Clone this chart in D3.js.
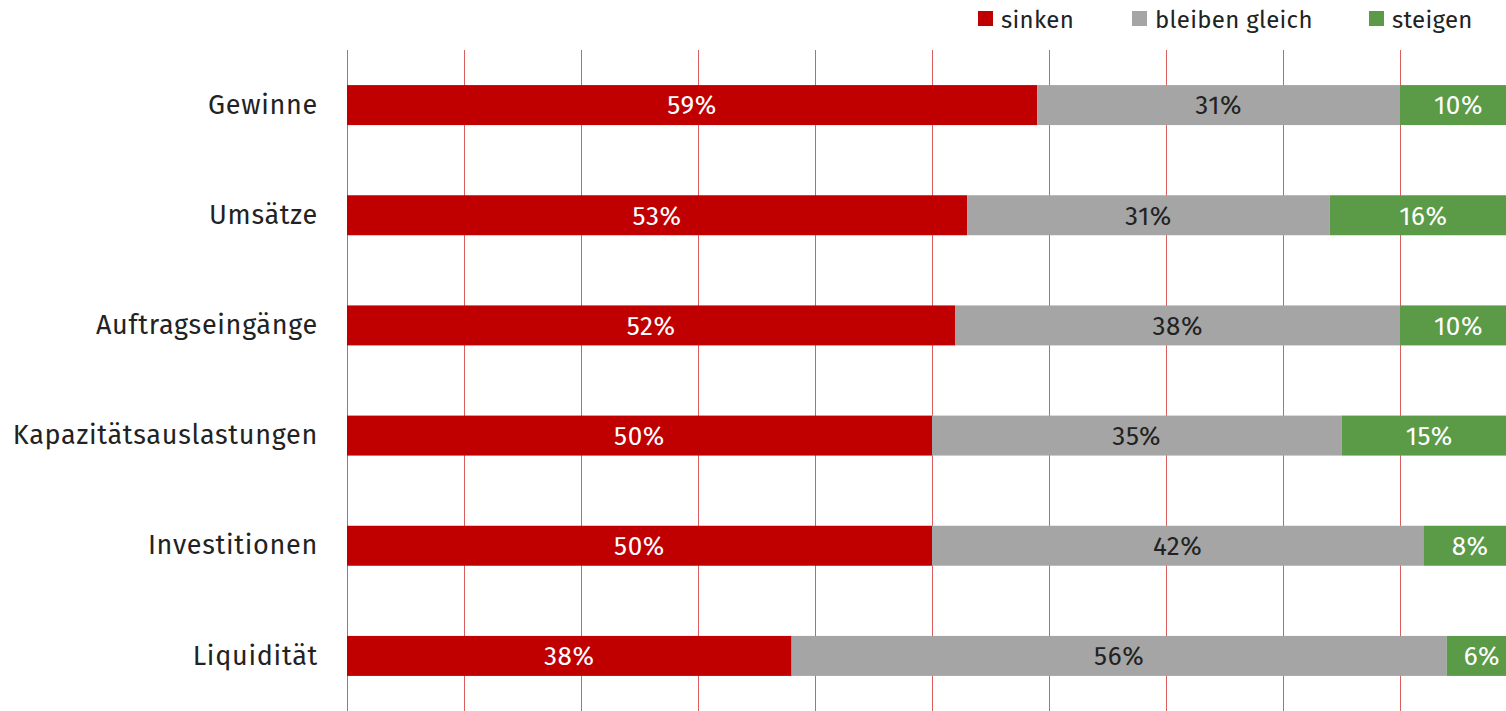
<!DOCTYPE html>
<html>
<head>
<meta charset="utf-8">
<script src="https://cdn.jsdelivr.net/npm/d3@7"></script>
<style>
  html, body { margin: 0; padding: 0; background: #fff; overflow: hidden; }
  svg { display: block; font-family: "Fira Sans", "Noto Sans", sans-serif; }
</style>
</head>
<body>
<svg id="chart" width="1506" height="711"></svg>
<script>
const categories = ["Gewinne", "Umsätze", "Auftragseingänge", "Kapazitätsauslastungen", "Investitionen", "Liquidität"];
const seriesNames = ["sinken", "bleiben gleich", "steigen"];
const sinken = [59, 53, 52, 50, 50, 38];
const gleich = [31, 31, 38, 35, 42, 56];
const steigen = [10, 16, 10, 15, 8, 6];
const gridTicks = [0, 10, 20, 30, 40, 50, 60, 70, 80, 90, 100];

const colors = ["#c00000", "#a5a5a5", "#5b9a47"];
const labelColors = ["#fff", "#222", "#fff"];

const svg = d3.select("#chart");

// plot continues past the right edge of the window (100% sits off-screen)
const x = d3.scaleLinear().domain([0, 100]).range([347, 1517]);
const y = d3.scaleBand().domain(categories).range([50, 711]).paddingInner(0.637).paddingOuter(0.3185);

const rows = categories.map((c, i) => ({ cat: c, sinken: sinken[i], gleich: gleich[i], steigen: steigen[i] }));
const stack = d3.stack().keys(["sinken", "gleich", "steigen"]);
const layers = stack(rows);

// gridlines
svg.append("g")
  .selectAll("line")
  .data(gridTicks)
  .enter()
  .append("line")
  .attr("x1", d => x(d) + 0.5)
  .attr("x2", d => x(d) + 0.5)
  .attr("y1", 50)
  .attr("y2", 711)
  .attr("stroke", "#cc2a2a")
  .attr("stroke-opacity", 0.75)
  .attr("stroke-width", 1);

// bars
const layerG = svg.append("g")
  .selectAll("g")
  .data(layers)
  .enter()
  .append("g");

layerG.selectAll("rect")
  .data((d, i) => d.map(s => ({ s, i })))
  .enter()
  .append("rect")
  .attr("x", d => x(d.s[0]))
  .attr("y", d => y(d.s.data.cat))
  .attr("width", d => x(d.s[1]) - x(d.s[0]))
  .attr("height", y.bandwidth())
  .attr("fill", d => colors[d.i]);

layerG.selectAll("text")
  .data((d, i) => d.map(s => ({ s, i })))
  .enter()
  .append("text")
  .attr("x", d => (x(d.s[0]) + x(d.s[1])) / 2)
  .attr("y", d => y(d.s.data.cat) + y.bandwidth() / 2)
  .attr("dy", "0.36em")
  .attr("text-anchor", "middle")
  .attr("font-size", 26)
  .attr("letter-spacing", "0.6px")
  .attr("fill", d => labelColors[d.i])
  .text(d => (d.s[1] - d.s[0]) + "%");

// category labels
const yAxis = svg.append("g")
  .attr("transform", "translate(347,0)")
  .call(d3.axisLeft(y).tickSize(0).tickPadding(29));
yAxis.select(".domain").remove();
yAxis.selectAll("text")
  .attr("font-size", 27)
  .attr("letter-spacing", "0.7px")
  .attr("font-family", "\"Fira Sans\", \"Noto Sans\", sans-serif")
  .attr("fill", "#222");

// legend
const legendX = [978, 1132, 1369];
const legend = svg.append("g")
  .selectAll("g")
  .data(seriesNames)
  .enter()
  .append("g")
  .attr("transform", (d, i) => `translate(${legendX[i]},11)`);

legend.append("rect")
  .attr("width", 15)
  .attr("height", 15)
  .attr("fill", (d, i) => colors[i]);

legend.append("text")
  .attr("x", 23)
  .attr("y", 8)
  .attr("dy", "0.36em")
  .attr("font-size", 24)
  .attr("letter-spacing", "0.3px")
  .attr("fill", "#222")
  .text(d => d);
</script>
</body>
</html>
